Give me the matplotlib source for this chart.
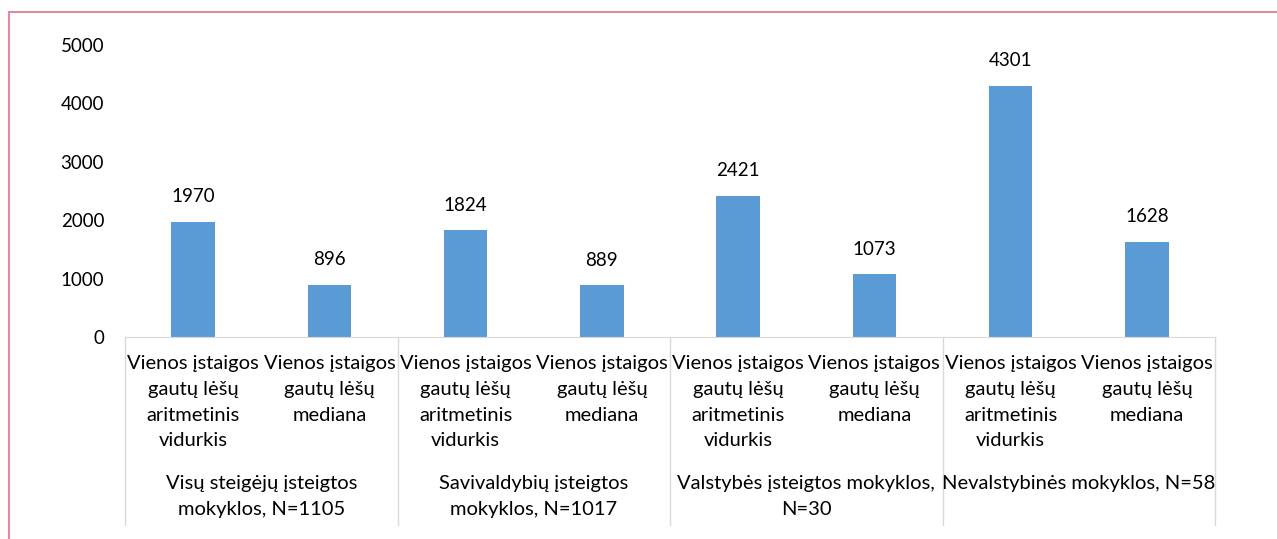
import numpy as np
import matplotlib
matplotlib.use('Agg')
import matplotlib.pyplot as plt
from matplotlib.lines import Line2D

groups = ['Visų steigėjų įsteigtos\nmokyklos, N=1105',
          'Savivaldybių įsteigtos\nmokyklos, N=1017',
          'Valstybės įsteigtos mokyklos,\nN=30',
          'Nevalstybinės mokyklos, N=58']
subcats = ['Vienos įstaigos\ngautų lėšų\naritmetinis\nvidurkis',
           'Vienos įstaigos\ngautų lėšų\nmediana']
values = [1970, 896, 1824, 889, 2421, 1073, 4301, 1628]
yticks = [0, 1000, 2000, 3000, 4000, 5000]

plt.rcParams['font.family'] = ['Lato', 'DejaVu Sans']
W, H = 1277, 539
fig = plt.figure(figsize=(W / 100, H / 100), dpi=100)

x0, x1, ytop, ybot = 125, 1215, 45, 337
ax = fig.add_axes([x0 / W, 1 - ybot / H, (x1 - x0) / W, (ybot - ytop) / H])

def ay(py):
    # pixel row -> axes fraction
    return (ybot - py) / (ybot - ytop)

n = len(values)
x = np.arange(n)
ax.bar(x, values, width=0.32, color='#5B9BD5')
ax.set_xlim(-0.5, n - 0.5)
ax.set_ylim(0, 5000)
ax.set_yticks(yticks)
ax.set_yticklabels([str(v) for v in yticks], fontsize=13.5)
ax.tick_params(axis='y', length=0, pad=15)
ax.set_xticks([])
for s in ['top', 'right', 'left']:
    ax.spines[s].set_visible(False)
ax.spines['bottom'].set_color('#D9D9D9')

for xi, v in zip(x, values):
    ax.annotate(str(v), (xi, v), xytext=(0, 18), textcoords='offset points',
                ha='center', va='center', fontsize=13.5)

trans = ax.get_xaxis_transform()
for i in range(n):
    ax.text(i, ay(355), subcats[i % 2], transform=trans, ha='center', va='top',
            fontsize=14.5, linespacing=1.63)
for g, name in enumerate(groups):
    ax.text(2 * g + 0.5, ay(475), name, transform=trans, ha='center', va='top',
            fontsize=14.5, linespacing=1.63)
for b in np.arange(-0.5, n, 2):
    ax.add_line(Line2D([b, b], [0, ay(525)], transform=trans, color='#D9D9D9',
                       lw=1, clip_on=False))

# pink frame (top and left edges visible)
fig.add_artist(Line2D([9 / W, 1.01], [1 - 12 / H, 1 - 12 / H], transform=fig.transFigure,
                      color='#D9909E', lw=1.5))
fig.add_artist(Line2D([9 / W, 9 / W], [1 - 12 / H, -0.01], transform=fig.transFigure,
                      color='#D9909E', lw=1.5))

fig.savefig('out.png', dpi=100, facecolor='white')
